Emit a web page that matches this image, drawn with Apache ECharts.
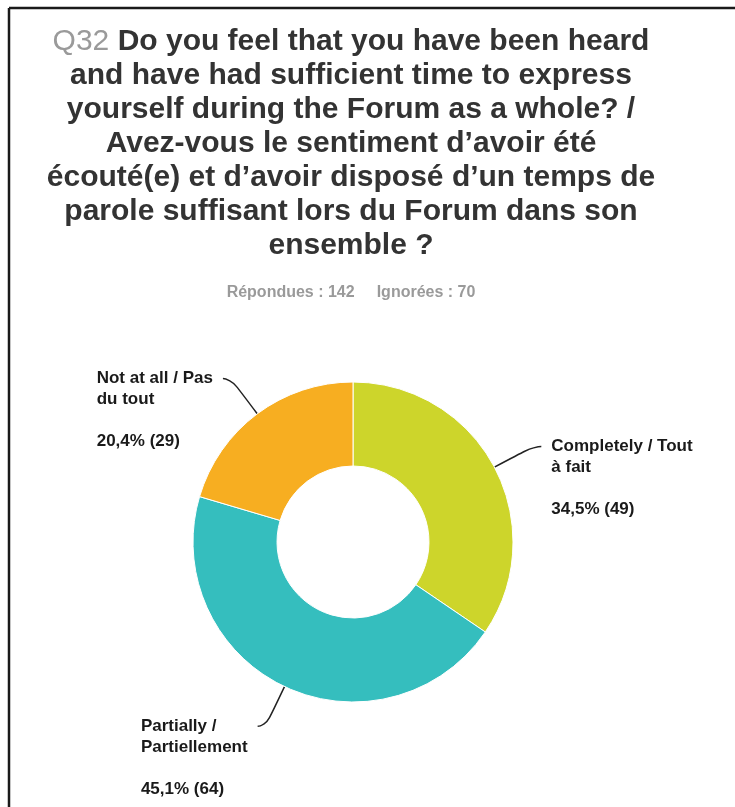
<!DOCTYPE html>
<html>
<head>
<meta charset="utf-8">
<title>Q32</title>
<script src="https://cdn.jsdelivr.net/npm/echarts@6/dist/echarts.min.js"></script>
<style>
  html, body { margin: 0; padding: 0; background: #fff; }
  #chart { width: 735px; height: 807px; }
</style>
</head>
<body>
<div id="chart"></div>
<script>
// answers, in drawing order (clockwise from 12 o'clock)
const categories = ["Completely / Tout\nà fait", "Partially /\nPartiellement", "Not at all / Pas\ndu tout"];
const counts = [49, 64, 29];
const colors = ["#cdd52b", "#35bebe", "#f7ae21"];
const answered = 142;
const skipped = 70;

const titleLines = [
  "Do you feel that you have been heard",
  "and have had sufficient time to express",
  "yourself during the Forum as a whole? /",
  "Avez-vous le sentiment d’avoir été",
  "écouté(e) et d’avoir disposé d’un temps de",
  "parole suffisant lors du Forum dans son",
  "ensemble ?"
];

const FONT = "'Liberation Sans', Arial, sans-serif";
const total = counts.reduce((a, b) => a + b, 0);

const chart = echarts.init(document.getElementById("chart"));

const titleText = titleLines
  .map((l, i) => (i === 0 ? "{q|Q32 }{t|" + l + "}" : "{t|" + l + "}"))
  .join("\n");

chart.setOption({
  backgroundColor: "#fff",
  graphic: [
    // frame of the page
    { type: "line", shape: { x1: 9, y1: 8, x2: 735, y2: 8 }, style: { stroke: "#1a1a1a", lineWidth: 2.5 } },
    { type: "line", shape: { x1: 9, y1: 8, x2: 9, y2: 807 }, style: { stroke: "#1a1a1a", lineWidth: 2.5 } },
    // question
    {
      type: "text",
      x: 351,
      y: 25,
      style: {
        text: titleText,
        align: "center",
        verticalAlign: "top",
        rich: {
          q: { fill: "#9a9a9a", fontSize: 30, fontFamily: FONT, lineHeight: 34 },
          t: { fill: "#333", fontSize: 30, fontWeight: "bold", fontFamily: FONT, lineHeight: 34 }
        }
      }
    },
    // answered / skipped
    {
      type: "text",
      x: 351,
      y: 293,
      style: {
        text: "{a|Répondues : " + answered + "}{b|Ignorées : " + skipped + "}",
        align: "center",
        verticalAlign: "middle",
        rich: {
          a: { fill: "#9a9a9a", fontSize: 16, fontWeight: "bold", fontFamily: FONT },
          b: { fill: "#9a9a9a", fontSize: 16, fontWeight: "bold", fontFamily: FONT, padding: [0, 0, 0, 22] }
        }
      }
    }
  ],
  series: [
    {
      type: "pie",
      center: [353, 542],
      radius: [76, 160],
      startAngle: 90,
      clockwise: true,
      avoidLabelOverlap: false,
      data: categories.map((c, i) => ({
        name: c,
        value: counts[i],
        itemStyle: { color: colors[i] }
      })),
      itemStyle: { borderColor: "#fff", borderWidth: 1 },
      label: {
        show: true,
        position: "outside",
        fontFamily: FONT,
        fontSize: 17,
        fontWeight: "bold",
        color: "#1a1a1a",
        lineHeight: 21,
        formatter(p) {
          const pct = ((p.value / total) * 100).toFixed(1).replace(".", ",");
          return p.name + "\n\n" + pct + "% (" + p.value + ")";
        }
      },
      labelLine: {
        show: true,
        length: 44,
        length2: 8,
        smooth: 0.7,
        lineStyle: { color: "#222", width: 1.5 }
      },
      labelLayout(params) {
        const pts = params.labelLinePoints;
        if (!pts) return {};
        const end = pts[pts.length - 1];
        const isLeft = end[0] < pts[0][0];
        return {
          x: isLeft ? end[0] - 10 - params.labelRect.width : end[0] + 10,
          y: end[1] - 11,
          align: "left",
          verticalAlign: "top",
          labelLinePoints: pts
        };
      },
      emphasis: { disabled: true }
    }
  ]
});
</script>
</body>
</html>
